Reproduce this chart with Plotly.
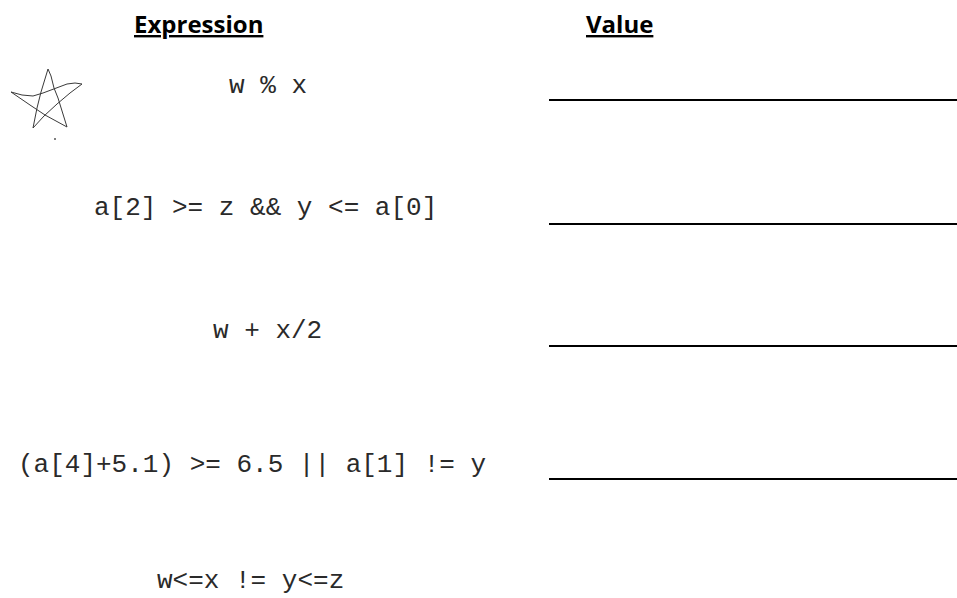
import plotly.graph_objects as go

W, H = 957, 598

# Column headers
headers = ["Expression", "Value"]
header_x = [198, 619]
header_y = [23, 23]

# Expressions (text) and their centre positions
expressions = [
    "w % x",
    "a[2] >= z && y <= a[0]",
    "w + x/2",
    "(a[4]+5.1) >= 6.5 || a[1] != y",
    "w<=x != y<=z",
]
expr_x = [268, 265, 267, 252, 250]
expr_y = [86, 208, 331, 465, 581]

# Answer blank lines
answer_line_y = [100, 224, 346, 479]
answer_line_x = [549, 957]

# Hand-drawn star doodle
star_x = [33, 37, 41, 45, 48, 51, 54, 58, 61, 64, 67, 56, 45, 30, 11, 22, 33, 43, 53, 60, 67, 75, 82, 70, 57, 44, 33]
star_y = [128, 108, 92, 78, 69, 76, 88, 98, 108, 118, 127, 121, 115, 105, 92, 95, 96, 93, 89, 86, 84, 83, 84, 93, 104, 116, 128]
dot_x = [55]
dot_y = [139]

fig = go.Figure()

for ly in answer_line_y:
    fig.add_trace(go.Scatter(
        x=answer_line_x, y=[ly, ly], mode="lines",
        line=dict(color="#000000", width=2.2), hoverinfo="skip", showlegend=False))

fig.add_trace(go.Scatter(
    x=star_x, y=star_y, mode="lines",
    line=dict(color="#3a3a3a", width=1), hoverinfo="skip", showlegend=False))
fig.add_trace(go.Scatter(
    x=dot_x, y=dot_y, mode="markers",
    marker=dict(color="#555555", size=2), hoverinfo="skip", showlegend=False))

annotations = []
for t, x, y in zip(headers, header_x, header_y):
    annotations.append(dict(
        text="<b>" + t + "</b>", x=x, y=y, xref="x", yref="y",
        xanchor="center", yanchor="middle", showarrow=False,
        font=dict(family="Open Sans", size=24, color="#000000", lineposition="under")))
for t, x, y in zip(expressions, expr_x, expr_y):
    annotations.append(dict(
        text=t, x=x, y=y, xref="x", yref="y",
        xanchor="center", yanchor="middle", showarrow=False,
        font=dict(family="Liberation Mono", size=26, color="#2a2a2a")))

fig.update_layout(
    width=W, height=H,
    margin=dict(l=0, r=0, t=0, b=0),
    paper_bgcolor="white", plot_bgcolor="white",
    xaxis=dict(range=[0, W], visible=False, fixedrange=True),
    yaxis=dict(range=[H, 0], visible=False, fixedrange=True),
    annotations=annotations,
    showlegend=False,
)

fig.write_html(
    "out.html",
    config={"displayModeBar": False},
    post_script="document.body.style.margin='0';document.body.style.overflow='hidden';",
)
